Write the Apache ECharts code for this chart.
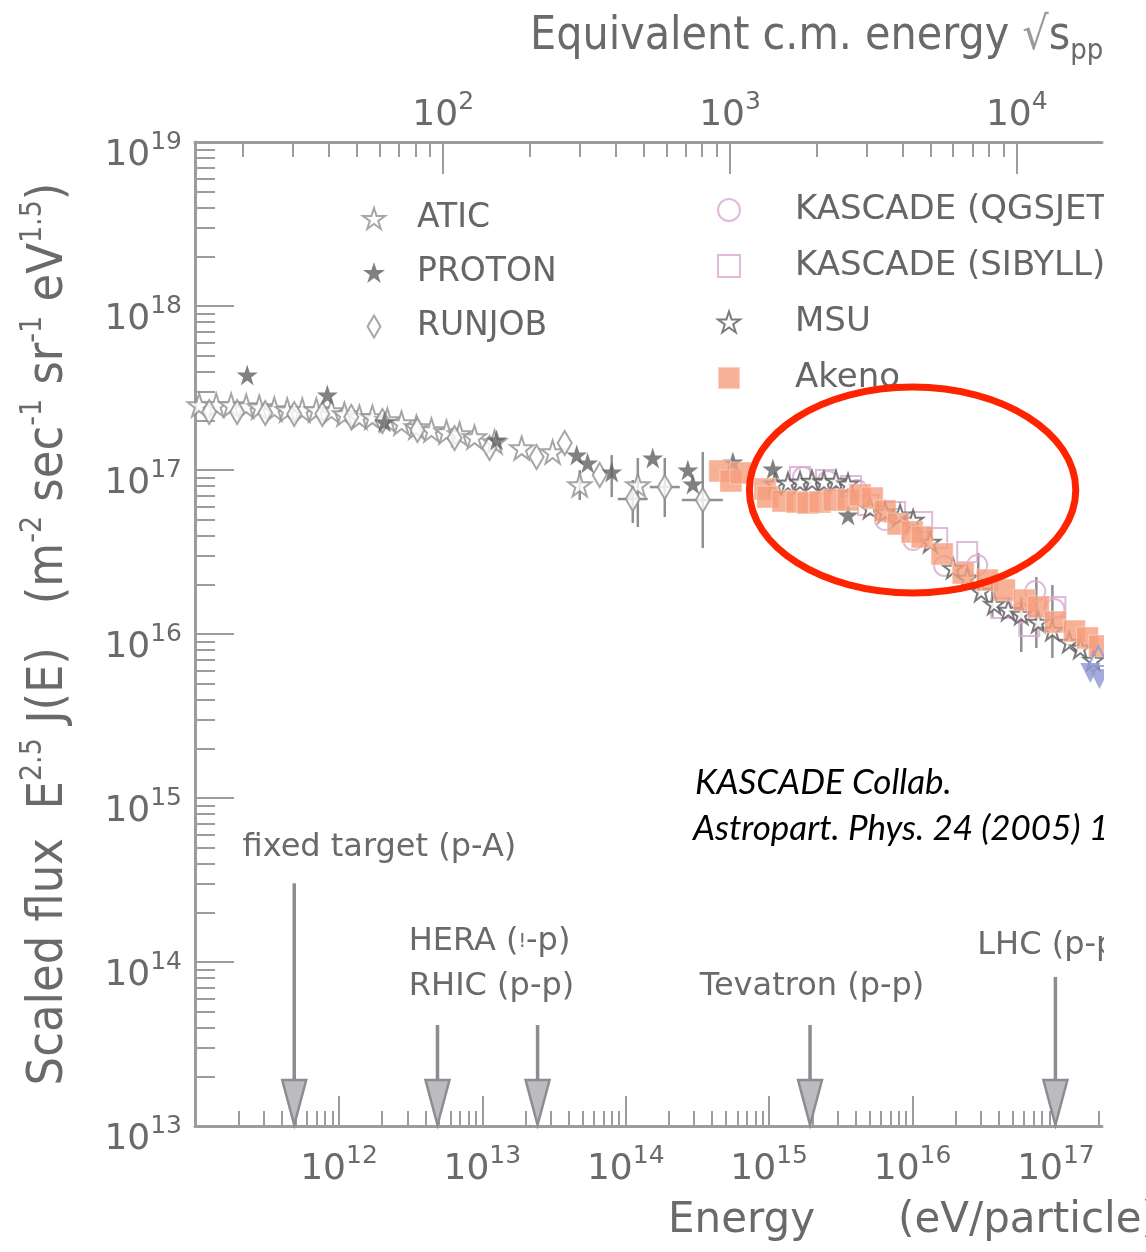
<!DOCTYPE html>
<html><head><meta charset="utf-8">
<script src="https://cdn.jsdelivr.net/npm/echarts@6.0.0/dist/echarts.min.js"></script>
<style>html,body{margin:0;padding:0;background:#fff}#c{width:1146px;height:1252px}</style>
</head><body><div id="c"></div>
<script>
// ===== data: log10(E / eV) and log10(E^2.5 J(E)) =====
const aticLogE   = [11.025,11.144,11.248,11.353,11.444,11.549,11.639,11.744,11.842,11.947,12.038,12.142,12.233,12.338,12.436,12.540,12.645,12.750,12.841,12.945,13.085,13.274,13.490,13.679,14.084];
const aticLogF   = [17.396,17.396,17.396,17.390,17.384,17.372,17.366,17.366,17.366,17.360,17.341,17.323,17.323,17.305,17.287,17.262,17.244,17.232,17.220,17.201,17.171,17.134,17.110,16.909,16.909];
const protonLogE = [11.360,11.919,12.317,13.099,13.658,13.734,13.902,14.188,14.433,14.468,14.747,15.026,15.550];
const protonLogF = [17.579,17.457,17.293,17.183,17.091,17.043,16.988,17.073,17.000,16.915,17.049,17.006,16.726];
const runjobLogE = [11.095,11.290,11.486,11.688,11.884,12.086,12.303,12.547,12.806,13.050,13.378,13.574,13.818,14.049,14.272,14.537];
const runjobLogF = [17.354,17.354,17.348,17.341,17.341,17.323,17.299,17.244,17.195,17.134,17.079,17.165,16.970,16.823,16.896,16.817];
const kqLogE     = [15.236,15.410,15.613,15.808,16.004,16.220,16.451,16.751,16.856,16.989];
const kqLogF     = [16.957,16.933,16.878,16.695,16.573,16.415,16.421,16.128,16.262,16.152];
const ksLogE     = [15.215,15.396,15.571,15.690,15.878,16.067,16.172,16.381,16.618,16.814,16.996];
const ksLogF     = [16.957,16.939,16.902,16.787,16.744,16.683,16.585,16.500,16.159,16.049,16.165];
const msuLogE    = [15.040,15.131,15.215,15.299,15.382,15.466,15.550,15.704,15.808,15.913,16.004,16.123,16.283,16.381,16.479,16.570,16.667,16.758,16.877,16.975,17.093,17.170,17.261];
const msuLogF    = [16.915,16.921,16.927,16.933,16.927,16.933,16.915,16.768,16.744,16.726,16.695,16.561,16.402,16.341,16.262,16.183,16.146,16.122,16.073,16.024,15.951,15.915,15.841];
const akenoLogE  = [14.656,14.733,14.803,14.971,14.991,15.096,15.194,15.271,15.355,15.452,15.550,15.634,15.718,15.808,15.899,15.997,16.067,16.206,16.353,16.521,16.640,16.779,16.877,16.996,17.128,17.219,17.305];
const akenoLogF  = [16.994,16.933,16.982,16.884,16.835,16.811,16.805,16.799,16.805,16.817,16.817,16.848,16.829,16.750,16.671,16.622,16.591,16.488,16.372,16.329,16.268,16.207,16.165,16.073,16.018,15.976,15.927];
const tibetLogE  = [17.240,17.303];
const tibetLogF  = [15.762,15.726];
const hiresLogE  = [17.296];
const hiresLogF  = [15.866];
// error bars: [logE, logF, logF low, logF high, logE low, logE high]
const errorBars = [
  [13.679,16.909,16.817,17.000,13.679,13.679],
  [14.084,16.909,16.652,17.073,14.084,14.084],
  [13.902,16.988,16.835,17.091,13.902,13.902],
  [14.049,16.823,16.677,16.939,13.944,14.153],
  [14.272,16.896,16.713,17.073,14.167,14.377],
  [14.537,16.817,16.524,17.110,14.391,14.677],
  [16.458,16.360,16.226,16.494,16.458,16.458],
  [16.556,16.226,16.104,16.348,16.556,16.556],
  [16.758,16.058,15.890,16.226,16.758,16.758],
  [16.863,16.131,15.915,16.348,16.863,16.863],
  [16.975,16.076,15.854,16.299,16.975,16.975]
];
// accelerator arrows: [logE, log flux of arrow top]
const arrowLogE = [11.688,12.687,13.385,15.285,16.996];
const arrowTop  = [14.480,13.616,13.616,13.616,13.909];
// highlight ellipse: [centre logE, centre logF, half-width (decades), half-height (decades)]
const ellipse = [[16.0,16.878,1.138,0.628]];
// annotation texts
const noteText = ['fixed target (p-A)','HERA (!-p)','RHIC (p-p)','Tevatron (p-p)','LHC (p-p)','KASCADE Collab.','Astropart. Phys. 24 (2005) 1'];
const noteLogE = [12.282,13.050,13.064,15.299,16.451,14.482,14.468];
const noteLogF = [14.695,14.122,13.848,13.848,14.098,15.091,14.811];
// axis ranges and ticks
const X_MIN = 10.996, X_MAX = 17.321, Y_MIN = 13, Y_MAX = 19;
const SQRT_OFF = 9 - Math.log10(2 * 0.938);   // log10 sqrt(s/GeV^2) = (logE - SQRT_OFF)/2
const T_MIN = 0.5 * (X_MIN - SQRT_OFF), T_MAX = 0.5 * (X_MAX - SQRT_OFF);
const xMajor = [12,13,14,15,16,17];
const yMajor = [13,14,15,16,17,18,19];
const topMajor = [2,3,4];

function minors(lo, hi){
  const out = [];
  for (let n = Math.floor(lo); n <= Math.ceil(hi); n++)
    for (let k = 2; k <= 9; k++) { const v = n + Math.log10(k); if (v > lo && v < hi) out.push(v); }
  return out;
}
const zip = (a, b) => a.map((v, i) => [v, b[i]]);

const AX = '#9c9ca0', TXT = '#6a6a6a';
const NUM = "'DejaVu Sans', sans-serif";
const COND = "'DejaVu Sans', sans-serif";
const labelRich = (big, small) => ({
  b: {fontSize: big, fontFamily: NUM, color: TXT, lineHeight: big + 8, verticalAlign: 'bottom'},
  s: {fontSize: small, fontFamily: NUM, color: TXT, lineHeight: small, verticalAlign: 'top'}
});
const powFmt = v => '{b|10}{s|' + Math.round(v) + '}';

function axisPair(pos, min, max, major, majLen, minLen, labelOpts) {
  const base = {type: 'value', position: pos, min: min, max: max, splitLine: {show: false}};
  const maj = Object.assign({}, base, {
    axisLine: {show: true, lineStyle: {color: AX, width: 3}},
    axisTick: {show: true, inside: true, length: majLen, customValues: major, lineStyle: {color: AX, width: 2}},
    axisLabel: Object.assign({show: true, customValues: major, formatter: powFmt}, labelOpts)
  });
  const mnr = Object.assign({}, base, {
    axisLine: {show: false},
    axisTick: {show: true, inside: true, length: minLen, customValues: minors(min, max), lineStyle: {color: AX, width: 2}},
    axisLabel: {show: false}
  });
  return [maj, mnr];
}

const STAR = 'path://M0,-10 L2.245,-3.09 L9.511,-3.09 L3.633,1.18 L5.878,8.09 L0,3.82 L-5.878,8.09 L-3.633,1.18 L-9.511,-3.09 L-2.245,-3.09 Z';
const DIAM = 'path://M0,-12 L7,0 L0,12 L-7,0 Z';

const chart = echarts.init(document.getElementById('c'), null, {renderer: 'canvas'});
const option = {
  animation: false,
  backgroundColor: '#fff',
  grid: {left: 195, right: 44, top: 142, bottom: 126, containLabel: false, outerBoundsMode: 'none'},
  title: [
    {text: '{t|Equivalent c.m. energy }{r|√}{t|s}{p|pp}', left: 530, top: 14, padding: 0,
     textStyle: {rich: {
       t: {fontFamily: COND, fontWeight: 'condensed', fontSize: 46, color: TXT, lineHeight: 52, verticalAlign: 'top'},
       r: {fontFamily: COND, fontWeight: 'condensed', fontSize: 46, color: '#9a9a9a', lineHeight: 52, verticalAlign: 'top'},
       p: {fontFamily: COND, fontWeight: 'condensed', fontSize: 29, color: TXT, lineHeight: 29, verticalAlign: 'bottom'}}}},
    {text: '{t|Energy}{g|}{t|(eV/particle)}', left: 668, top: 1200, padding: 0,
     textStyle: {rich: {t: {fontFamily: NUM, fontWeight: 'normal', fontSize: 42, color: TXT}, g: {width: 83}}}}
  ],
  legend: [
    {data: ['ATIC','PROTON','RUNJOB'], orient: 'vertical', left: 362, top: 202, itemWidth: 22, itemHeight: 22,
     itemGap: 21, padding: 0, selectedMode: false,
     textStyle: {fontFamily: NUM, fontSize: 33, color: '#666', padding: [0,0,0,27]}},
    {data: ['KASCADE (QGSJET)','KASCADE (SIBYLL)','MSU','Akeno'], orient: 'vertical', left: 717, top: 193,
     itemWidth: 22, itemHeight: 22, itemGap: 22, padding: 0, selectedMode: false,
     textStyle: {fontFamily: NUM, fontSize: 34, color: '#666', padding: [0,0,0,50]}}
  ],
  xAxis: [
    ...axisPair('bottom', X_MIN, X_MAX, xMajor, 30, 15, {margin: 18, rich: labelRich(36, 25)}),
    ...axisPair('top', T_MIN, T_MAX, topMajor, 32, 15, {margin: 8, rich: labelRich(36, 25)})
  ],
  yAxis: [
    ...axisPair('left', Y_MIN, Y_MAX, yMajor, 39, 20, {margin: 13, padding: [20, 0, 0, 0], rich: labelRich(36, 25)})
  ],
  graphic: [
    {type: 'rect', x: 1104, y: 0, shape: {width: 60, height: 1192}, style: {fill: '#fff'}, z: 1000, silent: true}
  ],
  series: [
    {type: 'custom', name: 'errors', silent: true, z: 1, data: errorBars, encode: {x: 0, y: 1},
     renderItem: (p, api) => {
       const x = api.value(0), y = api.value(1);
       const a = api.coord([x, api.value(2)]), b = api.coord([x, api.value(3)]);
       const c = api.coord([api.value(4), y]), d = api.coord([api.value(5), y]);
       const st = {stroke: '#909094', lineWidth: 2.5};
       return {type: 'group', children: [
         {type: 'line', shape: {x1: a[0], y1: a[1], x2: b[0], y2: b[1]}, style: st},
         {type: 'line', shape: {x1: c[0], y1: c[1], x2: d[0], y2: d[1]}, style: st}]};
     }},
    {type: 'custom', name: 'arrows', silent: true, z: 1, data: zip(arrowLogE, arrowTop), encode: {x: 0, y: 1},
     renderItem: (p, api) => {
       const x = api.value(0);
       const t = api.coord([x, api.value(1)]), b = api.coord([x, Y_MIN]);
       const hh = 46, hw = 24;
       return {type: 'group', children: [
         {type: 'line', shape: {x1: t[0], y1: t[1], x2: b[0], y2: b[1] - hh}, style: {stroke: '#8d8d91', lineWidth: 3.5}},
         {type: 'polygon', shape: {points: [[b[0] - hw / 2, b[1] - hh], [b[0] + hw / 2, b[1] - hh], [b[0], b[1] - 1]]},
          style: {fill: '#babcbf', stroke: '#8d8d91', lineWidth: 2.5}}]};
     }},
    {type: 'scatter', name: 'ATIC', z: 2, data: zip(aticLogE, aticLogF), symbol: STAR, symbolSize: 23,
     itemStyle: {color: '#fff', borderColor: '#909094', borderWidth: 2}},
    {type: 'scatter', name: 'RUNJOB', z: 2, data: zip(runjobLogE, runjobLogF), symbol: DIAM, symbolSize: 24, symbolKeepAspect: true,
     itemStyle: {color: '#fff', borderColor: '#909094', borderWidth: 2}},
    {type: 'scatter', name: 'PROTON', z: 3, data: zip(protonLogE, protonLogF), symbol: STAR, symbolSize: 21,
     itemStyle: {color: '#626262'}},
    {type: 'scatter', name: 'KASCADE (QGSJET)', z: 3, data: zip(kqLogE, kqLogF), symbol: 'circle', symbolSize: 20,
     itemStyle: {color: 'rgba(255,255,255,0)', borderColor: '#d8a8d2', borderWidth: 2}},
    {type: 'scatter', name: 'KASCADE (SIBYLL)', z: 3, data: zip(ksLogE, ksLogF), symbol: 'rect', symbolSize: 20,
     itemStyle: {color: 'rgba(255,255,255,0)', borderColor: '#d8a8d2', borderWidth: 2}},
    {type: 'scatter', name: 'MSU', z: 3, data: zip(msuLogE, msuLogF), symbol: STAR, symbolSize: 20,
     itemStyle: {color: '#fff', borderColor: '#5a5a5a', borderWidth: 2}},
    {type: 'scatter', name: 'Akeno', z: 4, data: zip(akenoLogE, akenoLogF), symbol: 'rect', symbolSize: 22,
     itemStyle: {color: '#f59e7c', borderColor: 'rgba(255,255,255,0.5)', borderWidth: 1}},
    {type: 'scatter', name: 'Tibet', z: 4, data: zip(tibetLogE, tibetLogF), symbol: 'triangle', symbolRotate: 180, symbolSize: 20,
     itemStyle: {color: '#8f97d3'}},
    {type: 'scatter', name: 'HiRes', z: 4, data: zip(hiresLogE, hiresLogF), symbol: 'triangle', symbolSize: 20,
     itemStyle: {color: 'rgba(255,255,255,0)', borderColor: '#8f97d3', borderWidth: 2}},
    {type: 'custom', name: 'highlight', silent: true, z: 10, data: ellipse, encode: {x: 0, y: 1},
     renderItem: (p, api) => {
       const x = api.value(0), y = api.value(1);
       const c = api.coord([x, y]), ex = api.coord([x + api.value(2), y]), ey = api.coord([x, y + api.value(3)]);
       return {type: 'ellipse', shape: {cx: c[0], cy: c[1], rx: ex[0] - c[0], ry: c[1] - ey[1]},
               style: {fill: null, stroke: '#ff2400', lineWidth: 7}};
     }},
    {type: 'custom', name: 'notes', silent: true, z: 11, data: zip(noteLogE, noteLogF), encode: {x: 0, y: 1},
     renderItem: (p, api) => {
       const i = p.dataIndex, c = api.coord([api.value(0), api.value(1)]);
       const italic = i >= 5;
       let text = noteText[i];
       const rich = {
         n: {fontFamily: NUM, fontSize: 32, fill: TXT},
         k: {fontFamily: NUM, fontSize: 19, fill: TXT},
         it: {fontFamily: "'Lato', 'DejaVu Sans', sans-serif", fontStyle: 'italic', fontSize: 35, fill: '#000'}
       };
       if (text.indexOf('!') >= 0) {
         const parts = text.split('!');
         text = '{n|' + parts[0] + '}{k|!}{n|' + parts[1] + '}';
       } else text = '{' + (italic ? 'it' : 'n') + '|' + text + '}';
       return {type: 'text', x: c[0], y: c[1],
               style: {text: text, rich: rich, align: (i === 4 || italic) ? 'left' : 'center', verticalAlign: 'middle'}};
     }}
  ]
};
// y axis title
option.yAxis[0].name = '{t|Scaled flux  E}{s|2.5}{t| J(E)   (m}{s|-2}{t| sec}{s|-1}{t| sr}{s|-1}{t| eV}{s|1.5}{t|)}';
option.yAxis[0].nameLocation = 'middle';
option.yAxis[0].nameGap = 121;
option.yAxis[0].nameRotate = 90;
option.yAxis[0].nameTextStyle = {rich: {
  t: {fontFamily: COND, fontWeight: 'condensed', fontSize: 50, color: TXT, lineHeight: 56, verticalAlign: 'bottom'},
  s: {fontFamily: COND, fontWeight: 'condensed', fontSize: 30, color: TXT, lineHeight: 30, verticalAlign: 'top'}}};
chart.setOption(option);
</script>
</body></html>
